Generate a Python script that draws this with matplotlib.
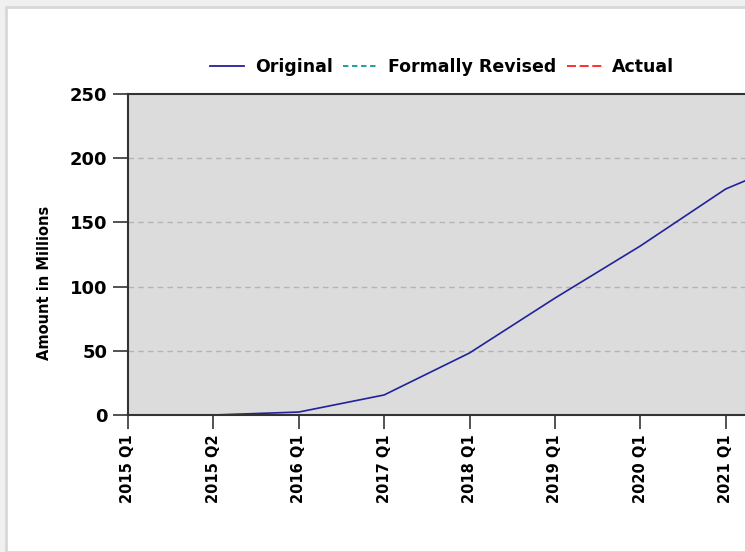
import matplotlib
matplotlib.use("Agg")
import matplotlib.pyplot as plt
from matplotlib.patches import Rectangle
from matplotlib.lines import Line2D
import numpy as np

# data
quarters = ["2015 Q1", "2015 Q2", "2016 Q1", "2017 Q1", "2018 Q1",
            "2019 Q1", "2020 Q1", "2021 Q1", "2022 Q1"]
original = [np.nan, 0.0, 2.3, 15.6, 48.3, 91.0, 131.6, 176.0, 204.0]
y_ticks = [0, 50, 100, 150, 200, 250]

W, H = 745, 552
fig = plt.figure(figsize=(W / 100, H / 100), dpi=100)
fig.patch.set_facecolor("#f0f0f0")

# white panel with light border (behind the axes)
fig.patches.append(Rectangle((6 / W, 0), 1, 1 - 7 / H, transform=fig.transFigure,
                             facecolor="white", edgecolor="#d8d8d8", linewidth=2.0,
                             zorder=-10))

left, bottom = 128 / W, 137 / H
width, height = (811 - 128) / W, 321 / H
ax = fig.add_axes([left, bottom, width, height])
ax.set_facecolor("#dcdcdc")

x = np.arange(len(quarters))
ax.plot(x, original, color="#22229a", linewidth=1.2)

ax.set_xlim(0, len(quarters) - 1)
ax.set_ylim(0, 250)
ax.set_yticks(y_ticks)
ax.set_yticklabels([str(v) for v in y_ticks], fontsize=13, fontweight="bold")
# last category is only partly visible, so no label for it
ax.set_xticks(x[:-1])
ax.set_xticklabels(quarters[:-1], rotation=90, fontsize=10.5, fontweight="bold")
ax.tick_params(axis="y", length=11, width=1.2, color="#333333", pad=4)
ax.tick_params(axis="x", length=10, width=1.2, color="#333333", pad=4)

for yv in y_ticks[1:-1]:
    ax.axhline(yv, color="#b4b4b4", linestyle=(0, (4, 3)), linewidth=1.0, zorder=0)

for s in ["left", "top", "bottom"]:
    ax.spines[s].set_color("#333333")
    ax.spines[s].set_linewidth(1.5)
ax.spines["right"].set_visible(False)

fig.text(45 / W, 1 - 283 / H, "Amount in Millions", rotation=90, ha="center", va="center",
         fontsize=10.5, fontweight="bold")

handles = [Line2D([], [], color="#22229a", linewidth=1.3),
           Line2D([], [], color="#0a9a9a", linewidth=1.3, linestyle=(0, (3, 2))),
           Line2D([], [], color="#ff2020", linewidth=1.3, linestyle=(0, (5, 2)))]
fig.legend(handles, ["Original", "Formally Revised", "Actual"], loc="center",
           bbox_to_anchor=(442 / W, 1 - 67 / H), ncol=3, frameon=False,
           prop={"size": 12.5, "weight": "bold"}, handlelength=2.0, handletextpad=0.6,
           columnspacing=0.6)

fig.savefig("out.png", dpi=100)
